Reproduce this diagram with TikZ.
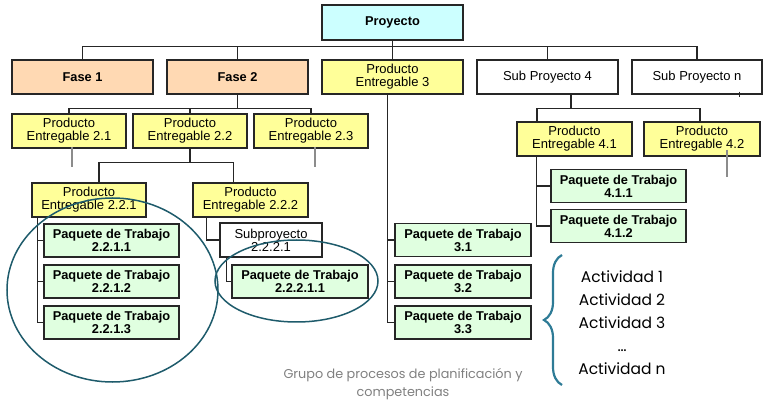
\documentclass[tikz,border=0pt]{standalone}
\usepackage{fontspec}
\setmainfont{Liberation Sans}
\newfontfamily\actfont{Poppins}
\usetikzlibrary{decorations.pathreplacing}
\definecolor{proycol}{HTML}{CCFFFF}
\definecolor{fasecol}{HTML}{FFD9B3}
\definecolor{prodcol}{HTML}{FFFF99}
\definecolor{paqcol}{HTML}{E0FFE0}
\definecolor{elipcol}{HTML}{1E5B6B}
\definecolor{llavecol}{HTML}{2E7B96}
\tikzset{
  caja/.style={draw=black!85,line width=1.3pt,align=center,inner sep=0pt,
    minimum height=34pt,font=\fontsize{13}{13}\selectfont},
  proy/.style={caja,fill=proycol,minimum width=141pt,minimum height=35pt,
    font=\fontsize{12.8}{13}\selectfont\bfseries},
  fase/.style={caja,fill=fasecol,minimum width=141pt,
    font=\fontsize{12.8}{13}\selectfont\bfseries},
  prod/.style={caja,fill=prodcol,minimum width=114pt},
  sub/.style={caja,fill=white},
  paq/.style={caja,fill=paqcol,minimum width=135pt,minimum height=33pt,
    font=\fontsize{12.8}{13}\selectfont\bfseries},
  linea/.style={draw=black!85,line width=1.3pt},
  resto/.style={draw=black!45,line width=2pt},
  elipse/.style={draw=elipcol,line width=1.5pt}
}
\begin{document}
\begin{tikzpicture}[x=1pt,y=-1pt]
\useasboundingbox (0,0) rectangle (763,403);
\node[proy] (P)at(392.5,22.5){Proyecto};
\node[fase] (F1)at(82.5,77){Fase 1};
\node[fase] (F2)at(237.5,77){Fase 2};
\node[prod,minimum width=141pt] (E3)at(392.5,77){Producto\\Entregable 3};
\node[sub,minimum width=141pt] (S4)at(547.5,77){Sub Proyecto 4};
\node[sub,minimum width=130pt] (Sn)at(697,77){Sub Proyecto n};
\node[prod] (E21)at(69,131){Producto\\Entregable 2.1};
\node[prod] (E22)at(190,131){Producto\\Entregable 2.2};
\node[prod] (E23)at(311,131){Producto\\Entregable 2.3};
\node[prod,minimum width=115pt] (E41)at(574.5,139){Producto\\Entregable 4.1};
\node[prod,minimum width=116pt] (E42)at(702,139){Producto\\Entregable 4.2};
\node[prod] (E221)at(89,200){Producto\\Entregable 2.2.1};
\node[prod,minimum width=115pt] (E222)at(250.5,200){Producto\\Entregable 2.2.2};
\node[paq] (W2211)at(111.5,240.5){Paquete de Trabajo\\2.2.1.1};
\node[paq] (W2212)at(111.5,281.5){Paquete de Trabajo\\2.2.1.2};
\node[paq] (W2213)at(111.5,322.5){Paquete de Trabajo\\2.2.1.3};
\node[sub,minimum width=102pt] (S2221)at(271,240){Subproyecto\\2.2.2.1};
\node[paq,minimum width=136pt] (W22211)at(300,281.5){Paquete de Trabajo\\2.2.2.1.1};
\node[paq,minimum width=136pt] (W31)at(463,240){Paquete de Trabajo\\3.1};
\node[paq,minimum width=136pt] (W32)at(463,281.5){Paquete de Trabajo\\3.2};
\node[paq,minimum width=136pt] (W33)at(463,322.5){Paquete de Trabajo\\3.3};
\node[paq] (W411)at(618.5,186){Paquete de Trabajo\\4.1.1};
\node[paq] (W412)at(618.5,226){Paquete de Trabajo\\4.1.2};
% conectores
\foreach \n in {F1,F2,E3,S4,Sn}
  \draw[linea] (P.south)--++(0,6)-|(\n.north);
\foreach \n in {E21,E22,E23}
  \draw[linea] (F2.south)--++(0,14)-|(\n.north);
\draw[linea] (E22.south)--++(0,14)-|([xshift=10pt]E221.north);
\draw[linea] (E22.south)--++(0,14)-|([xshift=-17pt]E222.north);
\draw[linea] ([xshift=23.5pt]S4.south)--++(0,14)-|([xshift=-37.5pt]E41.north);
\draw[linea] ([xshift=23.5pt]S4.south)--++(0,14)-|([xshift=-2pt]E42.north);
\foreach \n in {W2211,W2212,W2213}
  \draw[linea] ([xshift=6pt]E221.south west)|-(\n.west);
\draw[linea] ([xshift=14pt]E222.south west)|-(S2221.west);
\draw[linea] ([xshift=7pt]S2221.south west)|-(W22211.west);
\foreach \n in {W31,W32,W33}
  \draw[linea] ([xshift=-5pt]E3.south)|-(\n.west);
\foreach \n in {W411,W412}
  \draw[linea] ([xshift=20pt]E41.south west)|-(\n.west);
% ramas no desarrolladas
\draw[resto] ([shift={(3pt,2pt)}]E21.south)--++(0,20);
\draw[resto] ([shift={(4pt,2pt)}]E23.south)--++(0,20);
\draw[resto] ([shift={(25pt,7pt)}]E42.south)--++(0,27);
\draw[linea,line width=1pt] ([shift={(42pt,3pt)}]Sn.south)--++(0,5);
% agrupaciones
\draw[elipse] (112.5,290) ellipse [x radius=105.5,y radius=92];
\draw[elipse] (296.5,281) ellipse [x radius=81.5,y radius=41];
\node[align=center,font=\actfont\fontsize{15.5}{23}\selectfont] (A)at(622,322.5)
  {Actividad 1\\Actividad 2\\Actividad 3\\\dots\\Actividad n};
\draw[draw=llavecol,line width=2.2pt,decorate,decoration={brace,amplitude=18pt}]
  (562,385)--(562,255);
\node[align=center,text=black!50,font=\actfont\fontsize{12.8}{18}\selectfont] (G)at(403,384)
  {Grupo de procesos de planificación y\\competencias};
\end{tikzpicture}
\end{document}
